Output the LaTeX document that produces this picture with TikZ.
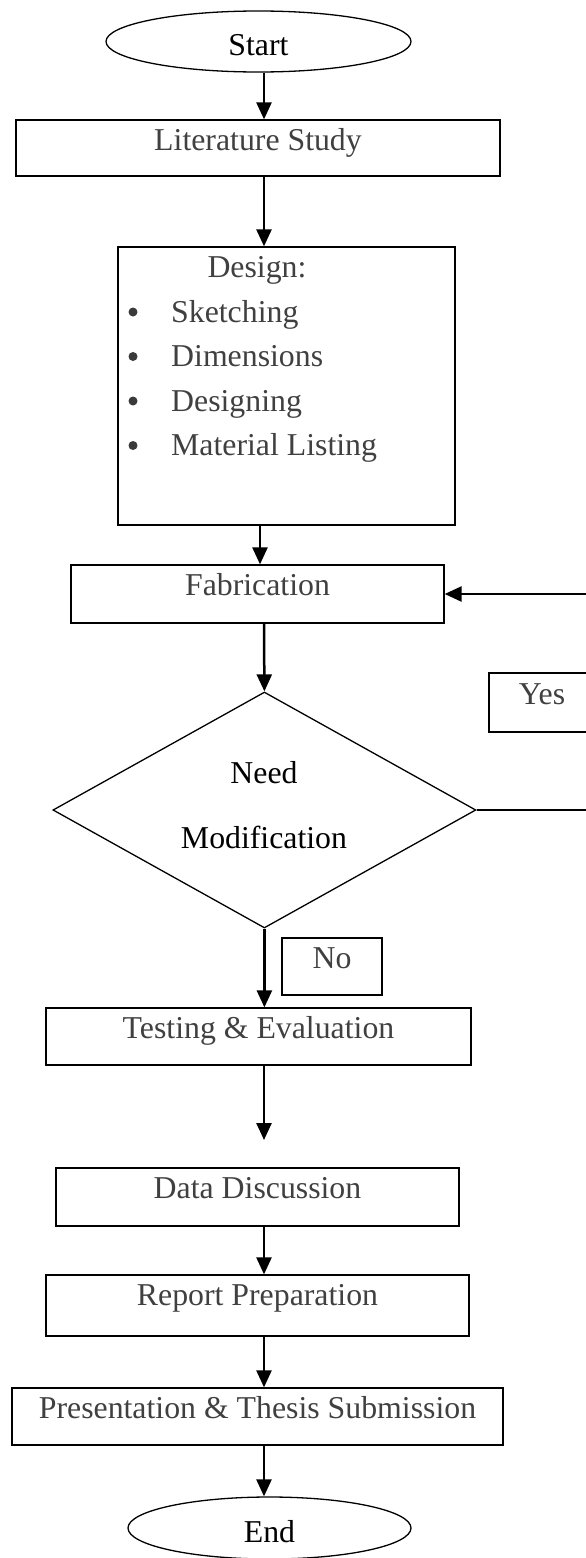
\documentclass[tikz,border=0pt]{standalone}
\usepackage{fontspec}
\setmainfont{Liberation Serif}
\usetikzlibrary{shapes.geometric,arrows.meta}
\definecolor{txtgray}{HTML}{404040}
\newcommand{\flowfont}{\fontsize{31.8}{38}\selectfont}

\begin{document}
\begin{tikzpicture}[x=1pt,y=-1pt,
  box/.style={draw,line width=1.3pt,inner sep=0pt,text height=30pt,font=\flowfont,text=txtgray},
  term/.style={draw,ellipse,line width=1.3pt,inner sep=0pt,font=\flowfont,text depth=0pt},
  txt/.style={inner sep=0pt,font=\flowfont,text=txtgray},
  dot/.style={circle,fill=txtgray!90!black,inner sep=0pt,minimum size=9pt},
  arr/.style={line width=2.5pt,-{Triangle[length=17pt,width=15pt]}},
  thinline/.style={line width=1.3pt}]
\useasboundingbox (0,0) rectangle (586,1558);

\coordinate (spine) at (264,0);
\coordinate (sidespine) at (260,0);
\coordinate (rim) at (586,0);
\coordinate (gapend) at (264,1140);

\node [term,minimum width=305pt,minimum height=61pt,text height=27pt] (start) at (258.5,41.5) {Start};
\node [box,minimum width=484pt,text depth=26pt] (lit) at (258,148) {Literature Study};

% design box with its list
\node [draw,line width=1.3pt,minimum width=337pt,minimum height=278pt] (design) at (286.5,386) {};
\node [txt,anchor=base] (designhead) at (257,277) {Design:};
\node [dot] (dot1) at (133,312) {};
\node [txt,anchor=base west] (sketch) at (171,322) {Sketching};
\node [dot] (dot2) at (133,356.5) {};
\node [txt,anchor=base west] (dims) at (171,366.5) {Dimensions};
\node [dot] (dot3) at (133,401) {};
\node [txt,anchor=base west] (designing) at (171,411) {Designing};
\node [dot] (dot4) at (133,445.5) {};
\node [txt,anchor=base west] (matlist) at (171,455.5) {Material Listing};

\node [box,minimum width=373pt,text depth=28pt] (fab) at (257.5,594) {Fabrication};

% decision
\node [draw,diamond,line width=1.3pt,inner sep=0pt,minimum width=423pt,minimum height=236pt] (dec) at (264.4,810) {};
\node [txt,anchor=base,text=black] (need) at (264,783) {Need};
\node [txt,anchor=base,text=black] (modif) at (264,848) {Modification};

\node [box,minimum width=106pt,text height=31pt,text depth=28pt] (yes) at (542,702.5) {Yes};
\node [box,minimum width=100pt,text depth=27pt] (no) at (332,966.5) {No};

\node [box,minimum width=425pt,text depth=27pt] (test) at (258.5,1036.5) {Testing \& Evaluation};
\node [box,minimum width=403pt,text depth=28pt] (data) at (257.5,1197) {Data Discussion};
\node [box,minimum width=423pt,text depth=31pt] (report) at (257.5,1305.5) {Report Preparation};
\node [box,minimum width=491pt,text depth=27pt] (present) at (257.5,1416.5) {Presentation \& Thesis Submission};
\node [term,minimum width=283pt,minimum height=62pt,text height=28pt,text=black] (finish) at (269.5,1528) {End};

% connectors
\draw [arr] (spine |- start.south) -- (spine |- lit.north);
\draw [arr] (spine |- lit.south) -- (spine |- design.north);
\draw [arr] (sidespine |- design.south) -- (sidespine |- fab.north);
\draw [arr] (spine |- fab.south) -- (dec.north);
\draw [arr] (dec.south) -- (dec.south |- test.north);
\draw [thinline] (dec.east) -- (dec.east -| rim);
\draw [arr] (rim |- fab.east) -- (fab.east);
\draw [arr] (spine |- test.south) -- (gapend);
\draw [arr] (spine |- data.south) -- (spine |- report.north);
\draw [arr] (spine |- report.south) -- (spine |- present.north);
\draw [arr] (spine |- present.south) -- (spine |- finish.north);
\end{tikzpicture}
\end{document}
